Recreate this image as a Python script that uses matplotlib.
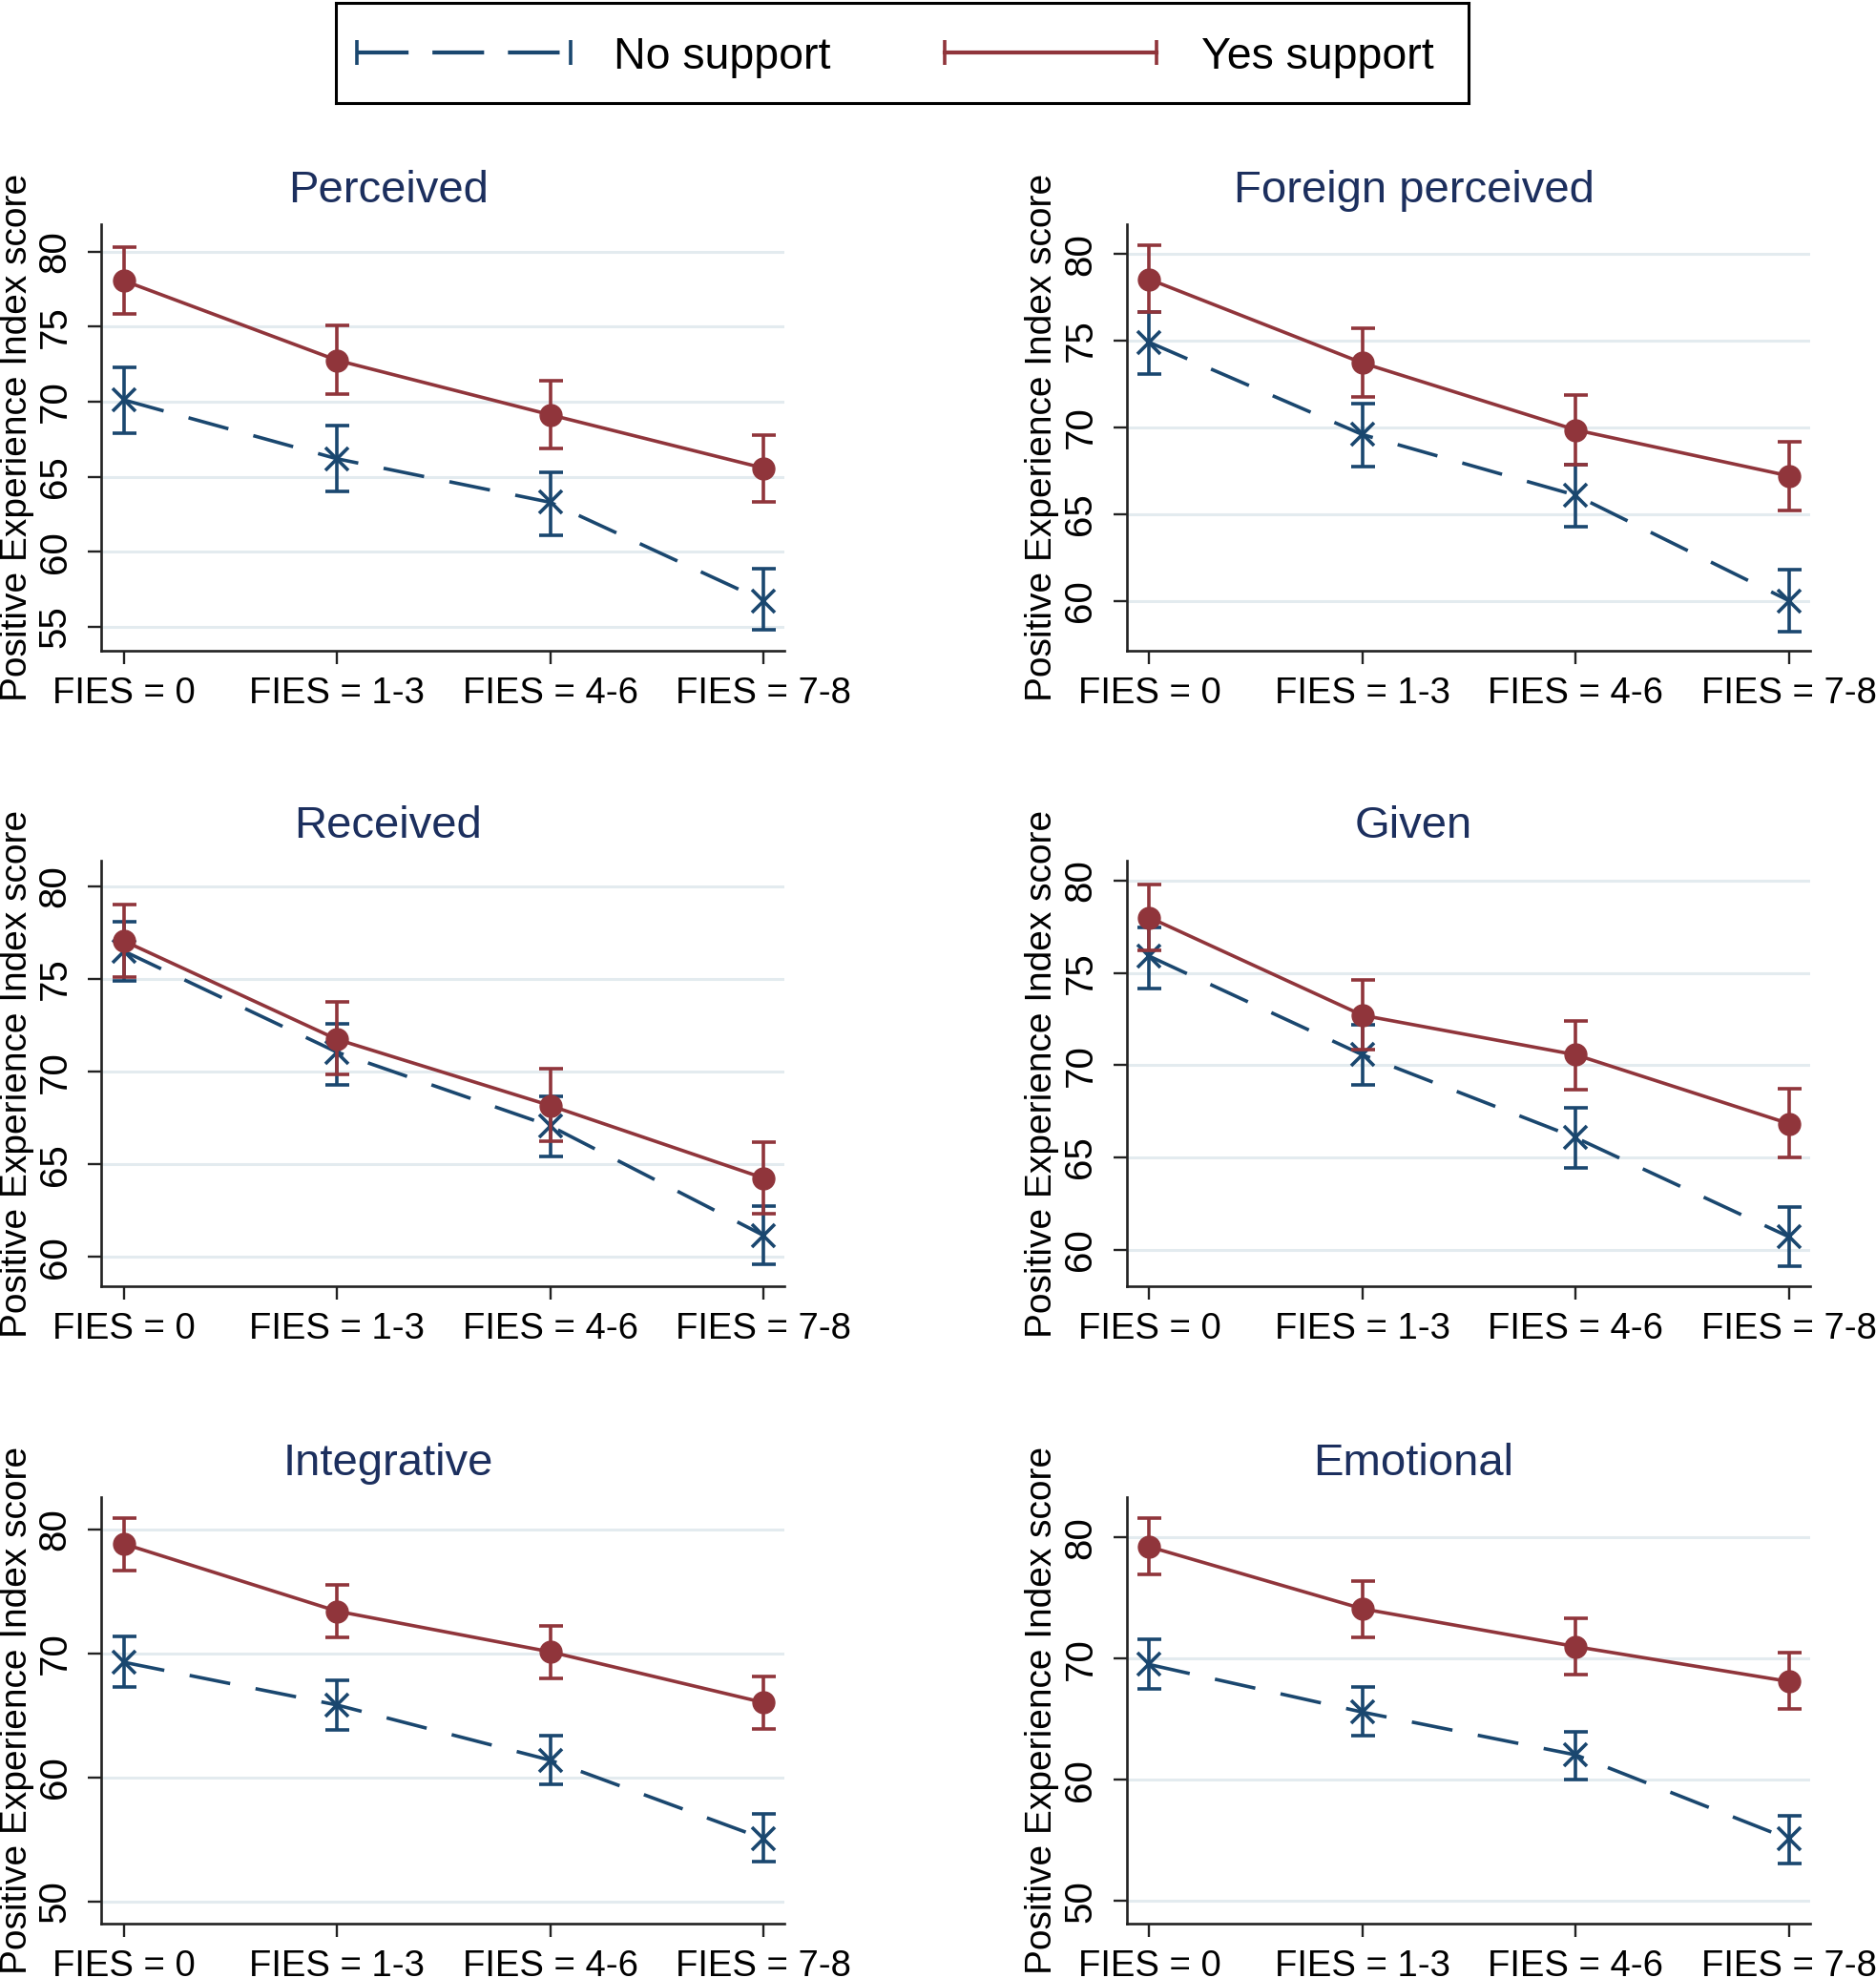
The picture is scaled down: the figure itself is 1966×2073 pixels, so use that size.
import numpy as np
import matplotlib
matplotlib.use('Agg')
import matplotlib.pyplot as plt

plt.rcParams['font.family'] = ['Liberation Sans', 'DejaVu Sans']

# categories and panels
categories = ['FIES = 0', 'FIES = 1-3', 'FIES = 4-6', 'FIES = 7-8']
panel_titles = ['Perceived', 'Foreign perceived', 'Received', 'Given', 'Integrative', 'Emotional']

# values: mean and 95% CI, Yes / No support
perceived_yes = [78.06, 72.76, 69.13, 65.58]
perceived_yes_lo = [75.87, 70.53, 66.90, 63.30]
perceived_yes_hi = [80.30, 75.07, 71.39, 67.80]
perceived_no = [70.12, 66.20, 63.30, 56.75]
perceived_no_lo = [67.90, 64.00, 61.10, 54.80]
perceived_no_hi = [72.30, 68.40, 65.30, 58.90]

foreign_yes = [78.54, 73.71, 69.85, 67.20]
foreign_yes_lo = [76.63, 71.74, 67.86, 65.23]
foreign_yes_hi = [80.49, 75.70, 71.84, 69.15]
foreign_no = [74.90, 69.58, 66.08, 60.00]
foreign_no_lo = [73.07, 67.74, 64.28, 58.22]
foreign_no_hi = [76.67, 71.36, 67.86, 61.78]

received_yes = [77.05, 71.74, 68.17, 64.26]
received_yes_lo = [75.10, 69.83, 66.25, 62.33]
received_yes_hi = [78.99, 73.74, 70.14, 66.17]
received_no = [76.50, 71.05, 67.07, 61.17]
received_no_lo = [74.90, 69.30, 65.40, 59.60]
received_no_hi = [78.10, 72.60, 68.66, 62.76]

given_yes = [78.00, 72.70, 70.56, 66.83]
given_yes_lo = [76.20, 70.86, 68.65, 64.98]
given_yes_hi = [79.80, 74.60, 72.40, 68.70]
given_no = [75.90, 70.56, 66.07, 60.70]
given_no_lo = [74.17, 68.93, 64.44, 59.10]
given_no_hi = [77.45, 72.20, 67.68, 62.29]

integrative_yes = [78.85, 73.42, 70.14, 66.05]
integrative_yes_lo = [76.70, 71.28, 68.00, 63.90]
integrative_yes_hi = [80.93, 75.56, 72.25, 68.14]
integrative_no = [69.30, 65.85, 61.40, 55.07]
integrative_no_lo = [67.30, 63.85, 59.44, 53.24]
integrative_no_hi = [71.38, 67.88, 63.40, 57.10]

emotional_yes = [79.22, 74.10, 70.98, 68.10]
emotional_yes_lo = [76.95, 71.75, 68.65, 65.80]
emotional_yes_hi = [81.60, 76.40, 73.28, 70.46]
emotional_no = [69.50, 65.57, 62.04, 55.10]
emotional_no_lo = [67.50, 63.60, 59.97, 53.10]
emotional_no_hi = [71.60, 67.64, 63.97, 57.00]

# y axis ticks / limits per panel
yticks_list = [[55, 60, 65, 70, 75, 80], [60, 65, 70, 75, 80], [60, 65, 70, 75, 80],
               [60, 65, 70, 75, 80], [50, 60, 70, 80], [50, 60, 70, 80]]
ylims = [(53.4, 81.8), (57.1, 81.7), (58.4, 81.4), (58.0, 81.1), (48.2, 82.6), (48.1, 83.3)]

yes_data = [(perceived_yes, perceived_yes_lo, perceived_yes_hi),
            (foreign_yes, foreign_yes_lo, foreign_yes_hi),
            (received_yes, received_yes_lo, received_yes_hi),
            (given_yes, given_yes_lo, given_yes_hi),
            (integrative_yes, integrative_yes_lo, integrative_yes_hi),
            (emotional_yes, emotional_yes_lo, emotional_yes_hi)]
no_data = [(perceived_no, perceived_no_lo, perceived_no_hi),
           (foreign_no, foreign_no_lo, foreign_no_hi),
           (received_no, received_no_lo, received_no_hi),
           (given_no, given_no_lo, given_no_hi),
           (integrative_no, integrative_no_lo, integrative_no_hi),
           (emotional_no, emotional_no_lo, emotional_no_hi)]

BLUE = '#1a476f'
RED = '#90353b'
TITLE_COL = '#1c2f5e'
GRID_COL = '#e3ebef'
DASH = (0, (12, 7.5))
LW = 2.6

fig = plt.figure(figsize=(19.66, 20.73), dpi=100)

lefts = [0.0538, 0.6005]
bottoms = [0.6709, 0.3495, 0.0274]
w, h = 0.3645, 0.2156
x = np.arange(len(categories))

for i, title in enumerate(panel_titles):
    ax = fig.add_axes([lefts[i % 2], bottoms[i // 2], w, h])
    ym, ylo, yhi = [np.array(v) for v in yes_data[i]]
    nm, nlo, nhi = [np.array(v) for v in no_data[i]]

    ax.errorbar(x, nm, yerr=[nm - nlo, nhi - nm], color=BLUE, linestyle=DASH,
                linewidth=LW, elinewidth=LW, capsize=9, capthick=LW,
                marker='x', markersize=17, markeredgewidth=2.6, zorder=3)
    ax.errorbar(x, ym, yerr=[ym - ylo, yhi - ym], color=RED, linestyle='-',
                linewidth=LW, elinewidth=LW, capsize=9, capthick=LW,
                marker='o', markersize=16.5, zorder=4)

    ax.set_xlim(-0.107, 3.1)
    ax.set_ylim(*ylims[i])
    ax.set_xticks(x)
    ax.set_xticklabels(categories, fontsize=27.5)
    ax.set_yticks(yticks_list[i])
    ax.set_yticklabels([str(t) for t in yticks_list[i]], fontsize=29,
                       rotation=90, va='center')
    ax.tick_params(axis='x', length=10, width=1.7, pad=9, color='#222222')
    ax.tick_params(axis='y', length=10, width=1.7, pad=11, color='#222222')
    ax.grid(axis='y', color=GRID_COL, linewidth=2.2)
    ax.set_axisbelow(True)
    for s in ['top', 'right']:
        ax.spines[s].set_visible(False)
    for s in ['left', 'bottom']:
        ax.spines[s].set_linewidth(1.9)
        ax.spines[s].set_color('#222222')

    ax.set_ylabel('Positive Experience Index score', fontsize=28)
    ax.yaxis.set_label_coords(-0.098, 0.5)
    ax.text(0.42, 1.08, title, transform=ax.transAxes, ha='center', va='center',
            fontsize=34, color=TITLE_COL)

# legend box at the top
lax = fig.add_axes([0.179, 0.9479, 0.6038, 0.0508])
lax.set_xlim(0, 1187)
lax.set_ylim(0, 1)
lax.set_xticks([])
lax.set_yticks([])
for s in lax.spines.values():
    s.set_linewidth(2.2)
    s.set_color('black')
lax.plot([22, 246], [0.5, 0.5], color=BLUE, linestyle=(0, (13, 6)), linewidth=3)
lax.plot([22, 246], [0.5, 0.5], color=BLUE, linestyle='none', marker='|',
         markersize=19, markeredgewidth=2.6)
lax.text(291, 0.46, 'No support', fontsize=33.5, va='center', ha='left')
lax.plot([638, 860], [0.5, 0.5], color=RED, linestyle='-', linewidth=3,
         marker='|', markersize=19, markeredgewidth=2.6)
lax.text(907, 0.46, 'Yes support', fontsize=33.5, va='center', ha='left')

plt.savefig('out.png', dpi=100)
plt.close()
